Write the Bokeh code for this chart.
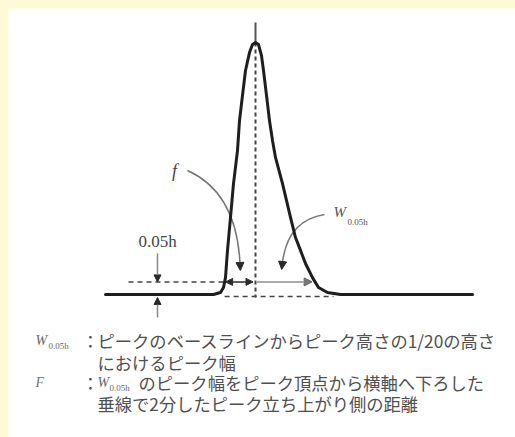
from bokeh.plotting import figure
from bokeh.models import Range1d, Arrow, NormalHead
from bokeh.core.properties import value
from bokeh.embed import file_html
from bokeh.resources import INLINE

# ---- data: chromatogram peak (time, signal as fraction of peak height h) ----
peak_time = [2.00, 3.90, 4.16, 4.30, 4.36, 4.40, 4.44, 4.50, 4.56, 4.64, 4.68,
             4.74, 4.80, 4.88, 4.94, 5.00, 5.06, 5.12, 5.16, 5.22, 5.28, 5.34,
             5.40, 5.54, 5.70, 5.80, 5.90, 6.00, 6.14, 6.26, 6.44, 6.70, 9.34]
peak_signal = [0.0, 0.0, 0.0, 0.008, 0.028, 0.067, 0.175, 0.306, 0.44, 0.571, 0.69,
               0.79, 0.889, 0.96, 0.992, 1.0, 0.992, 0.948, 0.889, 0.79, 0.69, 0.611,
               0.544, 0.44, 0.306, 0.226, 0.175, 0.123, 0.067, 0.028, 0.008, 0.0, 0.0]
width_fraction = 0.05          # 0.05h
label_h = "0.05h"
label_f = "f"
label_W = "W"
label_W_sub = "0.05h"
label_F = "F"
colon = "："
jp_lines = ["ピークのベースラインからピーク高さの1/20の高さ",
            "におけるピーク幅",
            "のピーク幅をピーク頂点から横軸へ下ろした",
            "垂線で2分したピーク立ち上がり側の距離"]

# ---- layout helpers (page pixel -> data) ----
PX_APEX, PY_BASE, PX_PER_T, PX_PER_H = 255.0, 294.0, 50.0, 252.0
def tx(px):
    return 5.0 + (px - PX_APEX) / PX_PER_T
def sy(py):
    return (PY_BASE - py) / PX_PER_H

W, H = 507, 429
p = figure(width=W, height=H, output_backend="svg", toolbar_location=None,
           x_range=Range1d(tx(8), tx(8 + W)), y_range=Range1d(sy(8 + H), sy(8)),
           min_border=0, background_fill_color="white", border_fill_color="white")
p.axis.visible = False
p.grid.visible = False
p.outline_line_color = None

# derived quantities from the data
i_apex = max(range(len(peak_signal)), key=lambda i: peak_signal[i])
t_apex, s_apex = peak_time[i_apex], peak_signal[i_apex]
def crossing(lo, hi, level):
    for i in range(lo, hi):
        a, b = peak_signal[i], peak_signal[i + 1]
        if (a - level) * (b - level) <= 0 and a != b:
            return peak_time[i] + (level - a) / (b - a) * (peak_time[i + 1] - peak_time[i])
    return None
t_left = crossing(0, i_apex, width_fraction)
t_right = crossing(i_apex, len(peak_signal) - 1, width_fraction)

dark = "#2a2a2a"
mid = "#555555"

# dashed helper lines
p.line([tx(128), t_left], [width_fraction, width_fraction], line_color="#444444",
       line_width=1.5, line_dash="5 4")
p.line([t_left, tx(333)], [sy(296), sy(296)], line_color="#444444",
       line_width=1.5, line_dash="5 4")
p.line([t_apex, t_apex], [s_apex, sy(297)], line_color="#444444",
       line_width=2, line_dash="4 3")
p.line([t_apex, t_apex], [sy(22), s_apex], line_color="#555555", line_width=2)

# width arrows at 0.05h
p.add_layout(Arrow(x_start=t_left + 0.02, y_start=width_fraction,
                   x_end=t_apex - 0.05, y_end=width_fraction,
                   line_color=dark, line_width=1.5,
                   start=NormalHead(size=7, fill_color=dark, line_color=dark),
                   end=NormalHead(size=7, fill_color=dark, line_color=dark)))
p.add_layout(Arrow(x_start=t_apex + 0.02, y_start=width_fraction,
                   x_end=t_right - 0.06, y_end=width_fraction,
                   line_color="#aaaaaa", line_width=2,
                   end=NormalHead(size=8, fill_color="#777777", line_color="#666666")))

# 0.05h indicator arrows
p.add_layout(Arrow(x_start=tx(157), y_start=sy(253), x_end=tx(157), y_end=width_fraction,
                   line_color="#888888", line_width=1.5,
                   end=NormalHead(size=7, fill_color=dark, line_color=dark)))
p.add_layout(Arrow(x_start=tx(157), y_start=sy(317), x_end=tx(157), y_end=sy(297),
                   line_color="#888888", line_width=1.5,
                   end=NormalHead(size=7, fill_color=dark, line_color=dark)))

# curved pointer arrows
def curved(x0, y0, cx, cy, x1, y1):
    p.quadratic(x0=[tx(x0)], y0=[sy(y0)], cx=[tx(cx)], cy=[sy(cy)],
                x1=[tx(x1)], y1=[sy(y1)], line_color="#777777", line_width=1.5)
    dx, dy = x1 - cx, y1 - cy
    n = (dx * dx + dy * dy) ** 0.5
    ex, ey = x1 + dx / n * 7, y1 + dy / n * 7
    p.add_layout(Arrow(x_start=tx(x1 - dx / n), y_start=sy(y1 - dy / n),
                       x_end=tx(ex), y_end=sy(ey), line_alpha=0,
                       end=NormalHead(size=8, fill_color=dark, line_color=dark)))
curved(187, 170, 236, 192, 239.5, 263)
curved(324, 214, 287, 220, 282, 262)

# the peak
p.line(peak_time, peak_signal, line_color="#1e1e1e", line_width=3,
       line_join="round", line_cap="round")

# labels on the chart
serif = value("Liberation Serif")
p.text(x=[tx(157)], y=[sy(241)], text=[label_h], text_font=serif,
       text_font_size="17px", text_color="#444444", text_align="center",
       text_baseline="middle")
p.text(x=[tx(174)], y=[sy(170)], text=[label_f], text_font=serif,
       text_font_size="18px", text_font_style="italic", text_color="#444444",
       text_align="center", text_baseline="middle")
p.text(x=[tx(333)], y=[sy(211)], text=[label_W], text_font=serif,
       text_font_size="15px", text_font_style="italic", text_color=mid,
       text_align="left", text_baseline="middle")
p.text(x=[tx(347)], y=[sy(221)], text=[label_W_sub], text_font=serif,
       text_font_size="9px", text_color=mid, text_align="left", text_baseline="middle")

# legend text below
jp = value("Noto Sans CJK JP")
line_y = [340, 362, 382, 403]
line_x = [97, 97, 138, 97]
p.text(x=[tx(v) for v in line_x], y=[sy(v) for v in line_y], text=jp_lines,
       text_font=jp, text_font_size="17.3px", text_color="#505050",
       text_align="left", text_baseline="middle")
p.text(x=[tx(90), tx(90)], y=[sy(line_y[0]), sy(line_y[2])], text=[colon, colon],
       text_font=jp, text_font_size="17.3px", text_color="#505050",
       text_align="center", text_baseline="middle")
p.text(x=[tx(35), tx(97)], y=[sy(line_y[0]), sy(line_y[2])], text=[label_W, label_W],
       text_font=serif, text_font_size="14px", text_font_style="italic",
       text_color="#666666", text_align="left", text_baseline="middle")
p.text(x=[tx(48), tx(109)], y=[sy(line_y[0] + 5), sy(line_y[2] + 5)],
       text=[label_W_sub, label_W_sub], text_font=serif, text_font_size="9px",
       text_color="#666666", text_align="left", text_baseline="middle")
p.text(x=[tx(35)], y=[sy(line_y[2])], text=[label_F], text_font=serif,
       text_font_size="14px", text_font_style="italic", text_color="#777777",
       text_align="left", text_baseline="middle")

html = file_html(p, INLINE)
head_end = html.rfind("</head>")
head, rest = html[:head_end], html[head_end:]
rest = rest.replace("<body>", '<body style="background:#FFF9D8;margin:0;'
                    'padding:8px 0 0 8px;overflow:hidden">', 1)
open("out.html", "w").write(head + rest)
